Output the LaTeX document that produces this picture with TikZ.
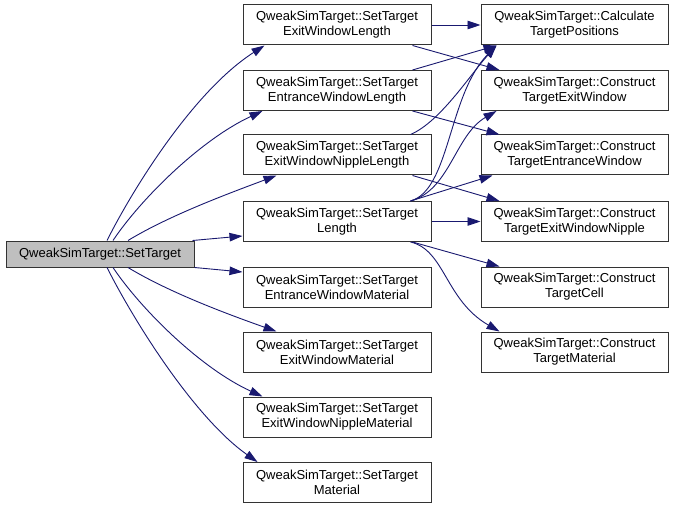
\documentclass[tikz,border=0pt]{standalone}
\usepackage{fontspec}
\setmainfont{Liberation Sans}
\usetikzlibrary{arrows.meta}
\definecolor{edgeblue}{HTML}{191970}
\definecolor{rootgray}{HTML}{BFBFBF}
\begin{document}
\begin{tikzpicture}[x=1pt,y=-1pt,
  box/.style={draw=black!80, line width=1pt, fill=white, minimum width=188pt, minimum height=40pt, inner sep=0pt, align=center, font=\fontsize{13}{15}\selectfont},
  rbox/.style={box, minimum width=187pt},
  rootbox/.style={box, fill=rootgray, minimum height=26pt},
  edge/.style={draw=edgeblue, line width=0.9pt, -{Triangle[length=13pt,width=8.5pt]}}]
\fill[white] (0,0) rectangle (675,508);
\useasboundingbox (0,0) rectangle (675,508);

\node[rootbox] (root) at (100,254) {QweakSimTarget::SetTarget};
\node[box] (m1) at (337,25) {QweakSimTarget::SetTarget\\ExitWindowLength};
\node[box] (m2) at (337,90.5) {QweakSimTarget::SetTarget\\EntranceWindowLength};
\node[box] (m3) at (337,155) {QweakSimTarget::SetTarget\\ExitWindowNippleLength};
\node[box] (m4) at (337,221.5) {QweakSimTarget::SetTarget\\Length};
\node[box] (m5) at (337,287) {QweakSimTarget::SetTarget\\EntranceWindowMaterial};
\node[box] (m6) at (337,352) {QweakSimTarget::SetTarget\\ExitWindowMaterial};
\node[box] (m7) at (337,417) {QweakSimTarget::SetTarget\\ExitWindowNippleMaterial};
\node[box] (m8) at (337,482.5) {QweakSimTarget::SetTarget\\Material};

\node[rbox] (r1) at (574.5,25) {QweakSimTarget::Calculate\\TargetPositions};
\node[rbox] (r2) at (574.5,90.5) {QweakSimTarget::Construct\\TargetExitWindow};
\node[rbox] (r3) at (574.5,155) {QweakSimTarget::Construct\\TargetEntranceWindow};
\node[rbox] (r4) at (574.5,221.5) {QweakSimTarget::Construct\\TargetExitWindowNipple};
\node[rbox] (r5) at (574.5,287) {QweakSimTarget::Construct\\TargetCell};
\node[rbox] (r6) at (574.5,352) {QweakSimTarget::Construct\\TargetMaterial};

\draw[edge] ([xshift=7pt]root.north) .. controls (135,185) and (195,90) .. ([xshift=22pt]m1.south west);
\draw[edge] ([xshift=13pt]root.north) .. controls (140,200) and (200,140) .. ([xshift=20pt]m2.south west);
\draw[edge] ([xshift=28pt]root.north) .. controls (170,215) and (230,193) .. ([xshift=34pt]m3.south west);
\draw[edge] ([xshift=-2pt]root.north east) -- ([yshift=-14.5pt]m4.west);
\draw[edge] (root.south east) -- ([yshift=15pt]m5.west);
\draw[edge] ([xshift=28pt]root.south) .. controls (170,293) and (230,315) .. ([xshift=34pt]m6.north west);
\draw[edge] ([xshift=13pt]root.south) .. controls (140,308) and (200,368) .. ([xshift=20pt]m7.north west);
\draw[edge] ([xshift=7pt]root.south) .. controls (135,323) and (195,418) .. ([xshift=15pt]m8.north west);

\draw[edge] (m1.east) -- (r1.west);
\draw[edge] ([xshift=-19pt]m1.south east) -- ([xshift=19pt]r2.north west);
\draw[edge] ([xshift=-19pt]m2.north east) -- ([xshift=16pt]r1.south west);
\draw[edge] ([xshift=-19pt]m2.south east) -- ([xshift=19pt]r3.north west);
\draw[edge] ([xshift=-21pt]m3.north east) .. controls (440,122) and (470,75) .. ([xshift=16pt]r1.south west);
\draw[edge] ([xshift=-19pt]m3.south east) -- ([xshift=19pt]r4.north west);
\draw[edge] ([xshift=-21pt]m4.north east) .. controls (450,190) and (448,95) .. ([xshift=16pt]r1.south west);
\draw[edge] ([xshift=-21pt]m4.north east) .. controls (450,190) and (455,135) .. ([xshift=16pt]r2.south west);
\draw[edge] ([xshift=-21pt]m4.north east) -- ([xshift=12pt]r3.south west);
\draw[edge] (m4.east) -- (r4.west);
\draw[edge] ([xshift=-19pt]m4.south east) -- ([xshift=19pt]r5.north west);
\draw[edge] ([xshift=-21pt]m4.south east) .. controls (445,250) and (445,300) .. ([xshift=19pt]r6.north west);
\end{tikzpicture}
\end{document}
